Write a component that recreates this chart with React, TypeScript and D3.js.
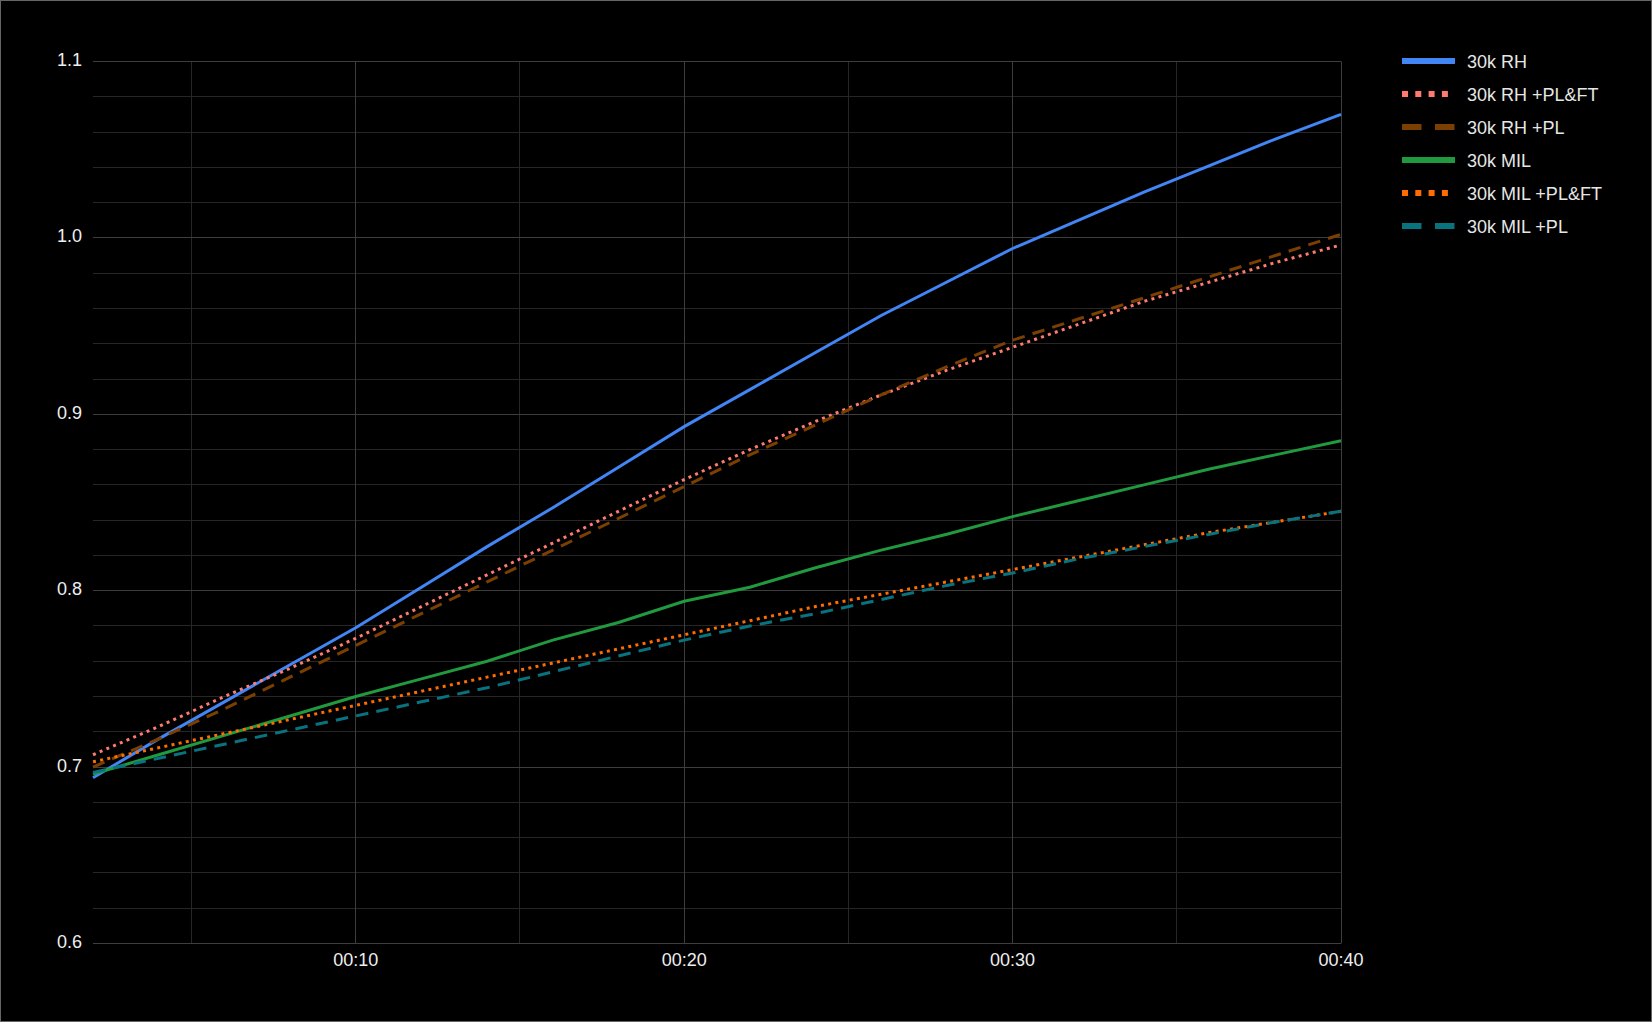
import React, { useEffect, useRef } from "react";
import * as d3 from "d3";

// time axis (seconds)
const times = [2, 4, 6, 8, 10, 12, 14, 16, 18, 20, 22, 24, 26, 28, 30, 32, 34, 36, 38, 40];

const rh = [0.694, 0.716, 0.737, 0.758, 0.779, 0.802, 0.825, 0.847, 0.87, 0.893, 0.914, 0.935, 0.956, 0.975, 0.994, 1.01, 1.026, 1.041, 1.056, 1.07];
const rhPlFt = [0.707, 0.723, 0.74, 0.756, 0.773, 0.791, 0.809, 0.827, 0.845, 0.863, 0.88, 0.896, 0.911, 0.925, 0.938, 0.951, 0.964, 0.975, 0.986, 0.996];
const rhPl = [0.7, 0.716, 0.733, 0.751, 0.769, 0.787, 0.805, 0.823, 0.841, 0.859, 0.877, 0.894, 0.911, 0.927, 0.942, 0.954, 0.966, 0.978, 0.99, 1.002];
const mil = [0.696, 0.707, 0.718, 0.729, 0.74, 0.75, 0.76, 0.772, 0.782, 0.794, 0.802, 0.813, 0.823, 0.832, 0.842, 0.851, 0.86, 0.869, 0.877, 0.885];
const milPlFt = [0.703, 0.711, 0.719, 0.727, 0.735, 0.743, 0.751, 0.759, 0.767, 0.775, 0.783, 0.791, 0.798, 0.805, 0.812, 0.819, 0.826, 0.833, 0.839, 0.845];
const milPl = [0.697, 0.705, 0.713, 0.721, 0.729, 0.737, 0.745, 0.754, 0.763, 0.772, 0.78, 0.787, 0.795, 0.803, 0.81, 0.818, 0.825, 0.832, 0.839, 0.845];

const seriesNames = ["30k RH", "30k RH +PL&FT", "30k RH +PL", "30k MIL", "30k MIL +PL&FT", "30k MIL +PL"];
const seriesValues = [rh, rhPlFt, rhPl, mil, milPlFt, milPl];
const seriesColors = ["#4285f4", "#ff7b70", "#7b3f02", "#21993f", "#ff6d01", "#08737e"];
const seriesStyle = ["solid", "dot", "dash", "solid", "dot", "dash"];

const yTicks = [0.6, 0.7, 0.8, 0.9, 1.0, 1.1];
const yMinor = [0.62, 0.64, 0.66, 0.68, 0.72, 0.74, 0.76, 0.78, 0.82, 0.84, 0.86, 0.88, 0.92, 0.94, 0.96, 0.98, 1.02, 1.04, 1.06, 1.08];
const xTicks = [10, 20, 30, 40];
const xMinor = [5, 15, 25, 35];

const W = 1652;
const H = 1022;
const FONT = "'Liberation Sans', Arial, sans-serif";

const App: React.FC = () => {
  const svgRef = useRef<SVGSVGElement>(null);

  useEffect(() => {
    if (!svgRef.current) return;
    const svg = d3.select(svgRef.current);
    svg.selectAll("*").remove();

    svg.append("rect").attr("width", W).attr("height", H).attr("fill", "#000");
    svg
      .append("rect")
      .attr("x", 0.5)
      .attr("y", 0.5)
      .attr("width", W - 1)
      .attr("height", H - 1)
      .attr("fill", "none")
      .attr("stroke", "#666");

    const x = d3.scaleLinear().domain([2, 40]).range([93, 1341]);
    const y = d3.scaleLinear().domain([0.6, 1.1]).range([943.5, 61.5]);

    const crisp = (v: number) => Math.round(v - 0.5) + 0.5;

    // minor grid
    const grid = svg.append("g");
    grid
      .selectAll("line.ym")
      .data(yMinor)
      .enter()
      .append("line")
      .attr("x1", 93)
      .attr("x2", 1341)
      .attr("y1", (d) => crisp(y(d)))
      .attr("y2", (d) => crisp(y(d)))
      .attr("stroke", "#262626");
    grid
      .selectAll("line.xm")
      .data(xMinor)
      .enter()
      .append("line")
      .attr("x1", (d) => crisp(x(d)))
      .attr("x2", (d) => crisp(x(d)))
      .attr("y1", y(1.1))
      .attr("y2", y(0.6))
      .attr("stroke", "#262626");
    // major grid
    grid
      .selectAll("line.y")
      .data(yTicks)
      .enter()
      .append("line")
      .attr("x1", 93)
      .attr("x2", 1341)
      .attr("y1", (d) => crisp(y(d)))
      .attr("y2", (d) => crisp(y(d)))
      .attr("stroke", "#3e3e3e");
    grid
      .selectAll("line.x")
      .data(xTicks)
      .enter()
      .append("line")
      .attr("x1", (d) => crisp(x(d)))
      .attr("x2", (d) => crisp(x(d)))
      .attr("y1", y(1.1))
      .attr("y2", y(0.6))
      .attr("stroke", "#3e3e3e");

    // axis labels
    svg
      .append("g")
      .selectAll("text")
      .data(yTicks)
      .enter()
      .append("text")
      .attr("x", 82)
      .attr("y", (d) => y(d) + 4.5)
      .attr("text-anchor", "end")
      .attr("fill", "#eeeeee")
      .style("font-family", FONT)
      .style("font-size", "18px")
      .text((d) => d3.format(".1f")(d));

    svg
      .append("g")
      .selectAll("text")
      .data(xTicks)
      .enter()
      .append("text")
      .attr("x", (d) => x(d))
      .attr("y", y(0.6) + 22)
      .attr("text-anchor", "middle")
      .attr("fill", "#eeeeee")
      .style("font-family", FONT)
      .style("font-size", "18px")
      .text((d) => `00:${String(d).padStart(2, "0")}`);

    // series
    const line = d3
      .line<number>()
      .x((_, i) => x(times[i]))
      .y((d) => y(d));

    const dash = (s: string, legend: boolean) =>
      s === "dot" ? (legend ? "6,7.3" : "3,4.3") : s === "dash" ? (legend ? "19.5,13.5" : "12.5,8.2") : null;

    seriesValues.forEach((vals, i) => {
      svg
        .append("path")
        .datum(vals)
        .attr("d", line)
        .attr("fill", "none")
        .attr("stroke", seriesColors[i])
        .attr("stroke-width", 3)
        .attr("stroke-dasharray", dash(seriesStyle[i], false));
    });

    // legend
    const legend = svg.append("g");
    seriesNames.forEach((name, i) => {
      const cy = 61 + i * 33;
      legend
        .append("line")
        .attr("x1", 1402)
        .attr("x2", 1455)
        .attr("y1", cy)
        .attr("y2", cy)
        .attr("stroke", seriesColors[i])
        .attr("stroke-width", 6)
        .attr("stroke-dasharray", dash(seriesStyle[i], true));
      legend
        .append("text")
        .attr("x", 1467)
        .attr("y", cy + 6.5)
        .attr("fill", "#e6e6e6")
        .style("font-family", FONT)
        .style("font-size", "18px")
        .text(name);
    });
  }, []);

  return (
    <svg
      ref={svgRef}
      width={W}
      height={H}
      style={{ position: "absolute", left: 0, top: 0, display: "block" }}
    ></svg>
  );
};

export default App;
